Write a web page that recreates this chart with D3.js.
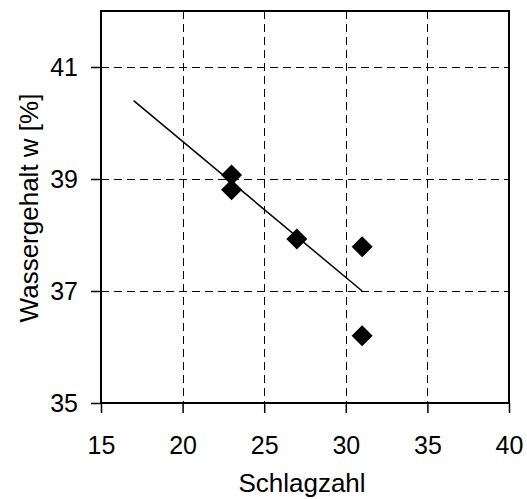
<!DOCTYPE html>
<html>
<head>
<meta charset="utf-8">
<script src="https://cdn.jsdelivr.net/npm/d3@7"></script>
<style>
  body { margin: 0; background: #fff; }
  text { font-family: "Liberation Sans", Arial, sans-serif; fill: #000; }
</style>
</head>
<body>
<svg id="chart" width="527" height="499"></svg>
<script>
var schlagzahl = [23, 23, 27, 31, 31];
var wassergehalt = [39.07, 38.81, 37.93, 37.79, 36.2];
var trendX = [17, 31];
var trendY = [40.4, 37.0];
var xTicks = [15, 20, 25, 30, 35, 40];
var yTicks = [35, 37, 39, 41];

var svg = d3.select("#chart"),
    mLeft = 101, mRight = 509, mTop = 11, mBottom = 403;

var x = d3.scaleLinear().domain([15, 40]).range([mLeft, mRight]);
var y = d3.scaleLinear().domain([35, 42]).range([mBottom, mTop]);

// grid
svg.append("g").selectAll("line").data(xTicks.slice(1, -1)).enter().append("line")
    .attr("x1", function(d) { return Math.round(x(d)) + 0.5; })
    .attr("x2", function(d) { return Math.round(x(d)) + 0.5; })
    .attr("y1", mTop).attr("y2", mBottom)
    .attr("stroke", "#000").attr("stroke-dasharray", "8,5");
svg.append("g").selectAll("line").data(yTicks.slice(1)).enter().append("line")
    .attr("y1", function(d) { return Math.round(y(d)) + 0.5; })
    .attr("y2", function(d) { return Math.round(y(d)) + 0.5; })
    .attr("x1", mLeft).attr("x2", mRight)
    .attr("stroke", "#000").attr("stroke-dasharray", "8,5");

// axes
var xAxis = svg.append("g").attr("transform", "translate(0," + mBottom + ")")
    .call(d3.axisBottom(x).tickValues(xTicks).tickFormat(d3.format("d")).tickSize(10));
var yAxis = svg.append("g").attr("transform", "translate(" + mLeft + ",0)")
    .call(d3.axisLeft(y).tickValues(yTicks).tickFormat(d3.format("d")).tickSize(10).tickPadding(13));
[xAxis, yAxis].forEach(function(a) {
    a.attr("font-size", 25).attr("font-family", "Liberation Sans, Arial, sans-serif");
    a.select(".domain").remove();
    a.selectAll("line").attr("stroke", "#000").attr("stroke-width", 1.5);
});
xAxis.selectAll("text").attr("y", 51).attr("dy", 0);

// frame
svg.append("rect").attr("x", mLeft).attr("y", mTop)
    .attr("width", mRight - mLeft).attr("height", mBottom - mTop)
    .attr("fill", "none").attr("stroke", "#000").attr("stroke-width", 2);

// trend line
svg.append("path")
    .datum(d3.zip(trendX, trendY))
    .attr("fill", "none").attr("stroke", "#000").attr("stroke-width", 1.5)
    .attr("d", d3.line().x(function(d) { return x(d[0]); }).y(function(d) { return y(d[1]); }));

// points
svg.append("g").selectAll("path").data(d3.zip(schlagzahl, wassergehalt)).enter().append("path")
    .attr("transform", function(d) { return "translate(" + x(d[0]) + "," + y(d[1]) + ")"; })
    .attr("d", "M0,-10.5L10.5,0L0,10.5L-10.5,0Z")
    .attr("fill", "#000");

// labels
svg.append("text").attr("x", 302).attr("y", 492)
    .attr("text-anchor", "middle").attr("font-size", 26).text("Schlagzahl");
svg.append("text").attr("transform", "translate(38,208) rotate(-90)")
    .attr("text-anchor", "middle").attr("font-size", 26).text("Wassergehalt w [%]");
</script>
</body>
</html>
